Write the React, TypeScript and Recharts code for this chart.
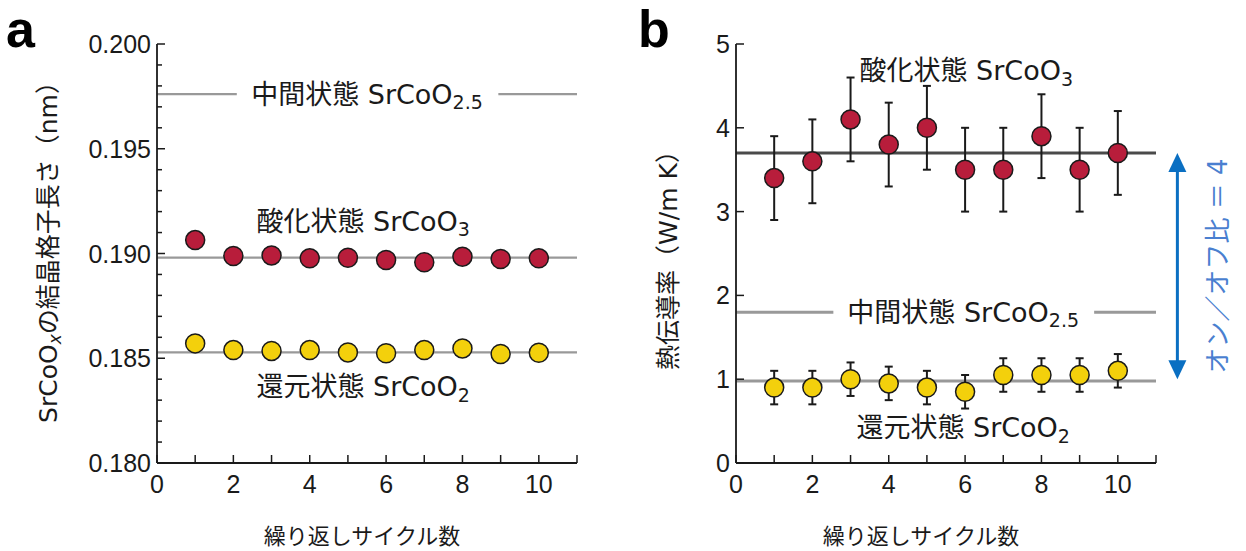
import React from 'react';
import {
  ScatterChart,
  Scatter,
  XAxis,
  YAxis,
  ReferenceLine,
  ReferenceDot,
  ErrorBar,
} from 'recharts';

// cycle index, shared by both panels
const cycles = [1, 2, 3, 4, 5, 6, 7, 8, 9, 10];

// panel a: lattice length (nm)
const latticeOxidized = [0.19064, 0.18988, 0.18991, 0.18977, 0.1898, 0.18969, 0.18958, 0.18985, 0.18974, 0.18977];
const latticeReduced = [0.18571, 0.18539, 0.18535, 0.18539, 0.18528, 0.18524, 0.18539, 0.18547, 0.1852, 0.18526];
const latticeOxidizedLevel = 0.1898;
const latticeReducedLevel = 0.18528;
const latticeMiddleLevel = 0.19761;

// panel b: thermal conductivity (W/m K)
const kOxidized = [3.4, 3.6, 4.1, 3.8, 4.0, 3.5, 3.5, 3.9, 3.5, 3.7];
const kOxidizedErr = [0.5, 0.5, 0.5, 0.5, 0.5, 0.5, 0.5, 0.5, 0.5, 0.5];
const kReduced = [0.9, 0.9, 1.0, 0.95, 0.9, 0.85, 1.05, 1.05, 1.05, 1.1];
const kReducedErr = [0.2, 0.2, 0.2, 0.2, 0.2, 0.2, 0.2, 0.2, 0.2, 0.2];
const kOxidizedLevel = 3.7;
const kReducedLevel = 0.98;
const kMiddleLevel = 1.8;

// ticks
const xTicks = [0, 1, 2, 3, 4, 5, 6, 7, 8, 9, 10, 11];
const xTickLabels = [0, 2, 4, 6, 8, 10];
const latticeTicks = [
  0.18, 0.181, 0.182, 0.183, 0.184, 0.185, 0.186, 0.187, 0.188, 0.189, 0.19,
  0.191, 0.192, 0.193, 0.194, 0.195, 0.196, 0.197, 0.198, 0.199, 0.2,
];
const latticeTickLabels = [0.18, 0.185, 0.19, 0.195, 0.2];
const kTicks = [0, 1, 2, 3, 4, 5];

const RED = '#B81D3B';
const YELLOW = '#F3D00C';
const INK = '#1a1a1a';
const FONT_JP = "'DejaVu Sans', 'Noto Sans CJK JP', sans-serif";
const FONT_CJK = "'Noto Sans CJK JP', sans-serif";
const FONT_NUM = "'Liberation Sans', Arial, sans-serif";
const AXIS = { stroke: INK, strokeWidth: 1.8 };

const toPoints = (ys: number[], errs?: number[]) =>
  cycles.map((x, i) => ({ x, y: ys[i], err: errs ? errs[i] : 0 }));

const has = (list: number[], v: number) => list.some((m) => Math.abs(m - v) < 1e-7);

type Side = 'left' | 'right' | 'top' | 'bottom';

const makeTick =
  (side: Side, labels: number[], fmt: (v: number) => string, minorLen = 8) =>
  (props: any) => {
    const { x, y, payload } = props;
    const v = Number(payload.value);
    const major = has(labels, v);
    const len = major ? 8 : minorLen;
    const txt = { fontSize: 25, fontFamily: FONT_NUM, fill: INK };
    if (side === 'left')
      return (
        <g>
          <line x1={x} x2={x + len} y1={y} y2={y} stroke={INK} strokeWidth={1.5} />
          {major && (
            <text x={x - 6} y={y} textAnchor="end" dominantBaseline="central" {...txt}>
              {fmt(v)}
            </text>
          )}
        </g>
      );
    if (side === 'right')
      return <line x1={x} x2={x - len} y1={y} y2={y} stroke={INK} strokeWidth={1.5} />;
    if (side === 'top')
      return <line x1={x} x2={x} y1={y} y2={y + len} stroke={INK} strokeWidth={1.5} />;
    return (
      <g>
        <line x1={x} x2={x} y1={y} y2={y - len} stroke={INK} strokeWidth={1.5} />
        {major && (
          <text x={x} y={y + 21} textAnchor="middle" dominantBaseline="central" {...txt}>
            {fmt(v)}
          </text>
        )}
      </g>
    );
  };

const dot = (fill: string) => (p: any) =>
  <circle cx={p.cx} cy={p.cy} r={9.5} fill={fill} stroke={INK} strokeWidth={1.5} />;

const stateLabel = (state: string, sub: string) => (p: any) => (
  <text x={p.cx} y={p.cy} textAnchor="middle" dominantBaseline="central" fontSize={27} fontFamily={FONT_JP} fill={INK}>
    {state} SrCoO<tspan fontSize={19} dy={8}>{sub}</tspan>
  </text>
);

const xTitle = (cx: number) => () => (
  <text x={cx} y={534} textAnchor="middle" dominantBaseline="central" fontSize={22} fontFamily={FONT_CJK} fill={INK}>
    繰り返しサイクル数
  </text>
);

const latticeTitle = () => (
  <text transform="translate(48,246) rotate(-90)" textAnchor="middle" dominantBaseline="central" fontSize={25} fontFamily={FONT_JP} fill={INK}>
    SrCoO<tspan fontSize={17} dy={7} fontStyle="italic">x</tspan>
    <tspan dy={-7}>の結晶格子長さ（nm）</tspan>
  </text>
);

const kTitle = () => (
  <text transform="translate(48,254) rotate(-90)" textAnchor="middle" dominantBaseline="central" fontSize={25} fontFamily={FONT_JP} fill={INK}>
    熱伝導率（W/m K）
  </text>
);

// double arrow between the two conductivity levels, with the ratio text
const ratioArrow = (p: any) => {
  const x = p.x1;
  const top = Math.min(p.y1, p.y2);
  const bot = Math.max(p.y1, p.y2);
  const head = 19;
  const hw = 9;
  const blue = '#0A6FC2';
  return (
    <g>
      <line x1={x} x2={x} y1={top + head - 2} y2={bot - head + 2} stroke={blue} strokeWidth={3} />
      <polygon points={`${x},${top} ${x - hw},${top + head} ${x + hw},${top + head}`} fill={blue} />
      <polygon points={`${x},${bot} ${x - hw},${bot - head} ${x + hw},${bot - head}`} fill={blue} />
      <text
        transform={`translate(${x + 41},${(top + bot) / 2}) rotate(-90)`}
        textAnchor="middle"
        dominantBaseline="central"
        fontSize={26}
        fontFamily={FONT_JP}
        fill="#4A7FD0"
      >
        オン／オフ比 ＝ 4
      </text>
    </g>
  );
};

const axesFor = (yDomain: number[], yTicks: number[], yLabels: number[], yFmt: (v: number) => string, yMinor: number, titleX: number, yTitle: () => any) => [
  <XAxis
    key="xb"
    xAxisId="b"
    type="number"
    dataKey="x"
    domain={[0, 11]}
    ticks={xTicks}
    interval={0}
    allowDataOverflow
    tickSize={0}
    tickMargin={0}
    tickLine={false}
    axisLine={AXIS}
    height={50}
    tick={makeTick('bottom', xTickLabels, (v) => String(v))}
    label={{ content: xTitle(titleX) }}
  />,
  <XAxis
    key="xt"
    xAxisId="t"
    orientation="top"
    type="number"
    domain={[0, 11]}
    ticks={xTicks}
    interval={0}
    allowDataOverflow
    tickSize={0}
    tickMargin={0}
    tickLine={false}
    axisLine={AXIS}
    height={0}
    tick={makeTick('top', xTickLabels, (v) => String(v))}
  />,
  <YAxis
    key="yl"
    yAxisId="l"
    type="number"
    dataKey="y"
    domain={yDomain}
    ticks={yTicks}
    interval={0}
    allowDataOverflow
    tickSize={0}
    tickMargin={0}
    tickLine={false}
    axisLine={AXIS}
    width={60}
    tick={makeTick('left', yLabels, yFmt, yMinor)}
    label={{ content: yTitle }}
  />,
  <YAxis
    key="yr"
    yAxisId="r"
    orientation="right"
    type="number"
    domain={yDomain}
    ticks={yTicks}
    interval={0}
    allowDataOverflow
    tickSize={0}
    tickMargin={0}
    tickLine={false}
    axisLine={AXIS}
    width={0}
    tick={makeTick('right', yLabels, yFmt, yMinor)}
  />,
];

const ids = { xAxisId: 'b', yAxisId: 'l' };

const LatticeChart = () => (
  <ScatterChart width={610} height={551} margin={{ top: 44, right: 33, bottom: 38, left: 97 }}>
    {axesFor([0.18, 0.2], latticeTicks, latticeTickLabels, (v) => v.toFixed(3), 5, 362, latticeTitle)}
    <ReferenceLine {...ids} segment={[{ x: 0, y: latticeMiddleLevel }, { x: 2.09, y: latticeMiddleLevel }]} stroke="#999" strokeWidth={2.2} />
    <ReferenceLine {...ids} segment={[{ x: 8.94, y: latticeMiddleLevel }, { x: 11, y: latticeMiddleLevel }]} stroke="#999" strokeWidth={2.2} />
    <ReferenceLine {...ids} y={latticeOxidizedLevel} stroke="#999" strokeWidth={2.2} />
    <ReferenceLine {...ids} y={latticeReducedLevel} stroke="#999" strokeWidth={2.2} />
    <ReferenceDot {...ids} x={5.5} y={latticeMiddleLevel} r={1} shape={stateLabel('中間状態', '2.5')} />
    <ReferenceDot {...ids} x={5.4} y={0.19155} r={1} shape={stateLabel('酸化状態', '3')} />
    <ReferenceDot {...ids} x={5.4} y={0.18363} r={1} shape={stateLabel('還元状態', '2')} />
    <Scatter {...ids} data={toPoints(latticeOxidized)} shape={dot(RED)} isAnimationActive={false} />
    <Scatter {...ids} data={toPoints(latticeReduced)} shape={dot(YELLOW)} isAnimationActive={false} />
  </ScatterChart>
);

const ConductivityChart = () => (
  <ScatterChart width={626} height={551} margin={{ top: 44, right: 90, bottom: 38, left: 56 }}>
    {axesFor([0, 5], kTicks, kTicks, (v) => String(v), 8, 301, kTitle)}
    <ReferenceLine {...ids} segment={[{ x: 0, y: kMiddleLevel }, { x: 2.55, y: kMiddleLevel }]} stroke="#999" strokeWidth={3} />
    <ReferenceLine {...ids} segment={[{ x: 9.38, y: kMiddleLevel }, { x: 11, y: kMiddleLevel }]} stroke="#999" strokeWidth={3} />
    <ReferenceLine {...ids} y={kOxidizedLevel} stroke="#4a4a4a" strokeWidth={3} />
    <ReferenceLine {...ids} y={kReducedLevel} stroke="#999" strokeWidth={3} />
    <ReferenceLine
      {...ids}
      ifOverflow="visible"
      segment={[{ x: 11.56, y: 1.0 }, { x: 11.56, y: kOxidizedLevel }]}
      shape={ratioArrow}
    />
    <ReferenceDot {...ids} x={5.95} y={kMiddleLevel} r={1} shape={stateLabel('中間状態', '2.5')} />
    <ReferenceDot {...ids} x={6.03} y={4.68} r={1} shape={stateLabel('酸化状態', '3')} />
    <ReferenceDot {...ids} x={5.95} y={0.42} r={1} shape={stateLabel('還元状態', '2')} />
    <Scatter {...ids} data={toPoints(kOxidized, kOxidizedErr)} shape={dot(RED)} isAnimationActive={false}>
      <ErrorBar dataKey="err" direction="y" width={4} stroke={INK} strokeWidth={2} isAnimationActive={false} />
    </Scatter>
    <Scatter {...ids} data={toPoints(kReduced, kReducedErr)} shape={dot(YELLOW)} isAnimationActive={false}>
      <ErrorBar dataKey="err" direction="y" width={4} stroke={INK} strokeWidth={2} isAnimationActive={false} />
    </Scatter>
  </ScatterChart>
);

const panelTag: React.CSSProperties = {
  position: 'absolute',
  top: 3,
  fontFamily: FONT_NUM,
  fontWeight: 'bold',
  fontSize: 52,
  lineHeight: '52px',
  color: '#000',
};

export default function App() {
  return (
    <div style={{ position: 'absolute', left: 0, top: 0, width: 1246, height: 551, background: '#fff' }}>
      <div style={{ position: 'absolute', left: 0, top: 0 }}>
        <LatticeChart />
      </div>
      <div style={{ position: 'absolute', left: 620, top: 0 }}>
        <ConductivityChart />
      </div>
      <div style={{ ...panelTag, left: 6 }}>a</div>
      <div style={{ ...panelTag, left: 638 }}>b</div>
    </div>
  );
}
